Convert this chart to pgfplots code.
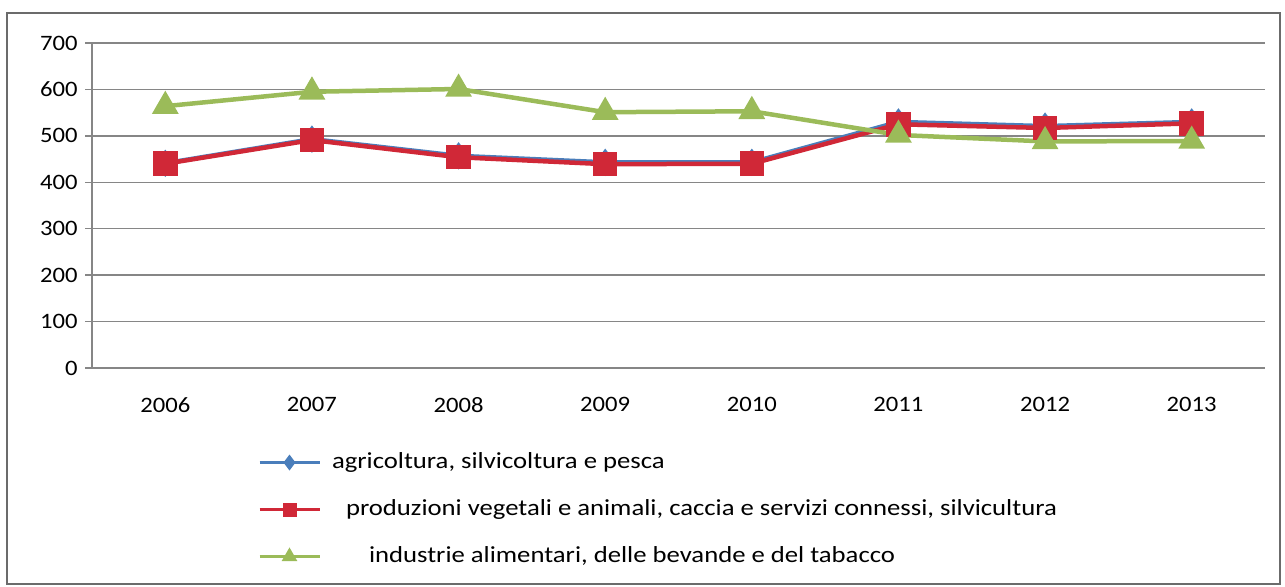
\documentclass[border=0pt]{standalone}
\usepackage{pgfplots}
\pgfplotsset{compat=1.18}
\usepackage{fontspec}
\setmainfont{Carlito}
\newfontfamily\legfont{Carlito}[FakeStretch=1.16]
\newfontfamily\tickfont{Carlito}[FakeStretch=1.12]
\definecolor{xlblue}{RGB}{74,126,187}
\definecolor{xlred}{RGB}{208,40,55}
\definecolor{xlgreen}{RGB}{155,187,89}
\definecolor{xlgrid}{RGB}{134,134,134}
\begin{document}
\begin{tikzpicture}
\useasboundingbox (0,0) rectangle (642.5pt,293pt);
\draw[xlgrid!80!black, line width=0.8pt] (3.5pt,1pt) rectangle (640pt,286.5pt);
\begin{axis}[
  at={(46pt,109pt)}, anchor=south west,
  scale only axis, width=586.5pt, height=162.5pt,
  xmin=-0.5, xmax=7.5, ymin=0, ymax=700,
  axis x line=bottom, axis y line=left,
  axis line style={-, xlgrid, line width=0.75pt},
  xtick={0,...,7},
  xticklabels={2006,2007,2008,2009,2010,2011,2012,2013},
  minor xtick={-0.5,0.5,...,7.5},
  ytick={0,100,...,700},
  ymajorgrids, grid style={xlgrid, line width=0.75pt},
  tick align=outside,
  major tick length=3.5pt, minor tick length=3.5pt,
  xtick style={draw=none},
  minor x tick style={xlgrid, line width=0.75pt},
  major y tick style={xlgrid, line width=0.75pt},
  tick label style={font=\tickfont\fontsize{11}{13}\selectfont},
  /pgf/number format/assume math mode=true,
  yticklabel style={inner sep=0pt, xshift=-3.5pt},
  xticklabel style={inner sep=0pt, anchor=north, yshift=-11pt},
  legend style={at={(rel axis cs:0,0)}, anchor=north west, xshift=83pt, yshift=-42pt,
    draw=none, fill=none, inner sep=0pt, outer sep=0pt,
    row sep=13pt, column sep=0pt,
    nodes={inner sep=0pt, text height=8pt, text depth=2.5pt},
    font=\legfont\fontsize{11.5}{13}\selectfont},
  legend cell align=left,
  legend image code/.code={\draw[#1, line width=1.5pt, mark repeat=2, mark phase=2, every mark/.append style={scale=0.55}] plot coordinates {(0pt,0pt) (15pt,0pt) (30pt,0pt)};},
]
\addplot[xlblue, line width=2.25pt, mark=diamond*, mark size=5pt, mark options={solid}]
  coordinates {(0,441) (1,493) (2,457) (3,443) (4,443) (5,530) (6,521) (7,530)};
\addlegendentry{\hspace{5.5pt}agricoltura, silvicoltura e pesca}
\addplot[xlred, line width=2.25pt, mark=square*, mark size=5pt, mark options={solid}]
  coordinates {(0,440) (1,491) (2,454) (3,439) (4,440) (5,525) (6,517) (7,527)};
\addlegendentry{\hspace{12.5pt}produzioni vegetali e animali, caccia e servizi connessi, silvicultura}
\addplot[xlgreen, line width=2.25pt, mark=triangle*, mark size=5.5pt, mark options={solid}]
  coordinates {(0,564) (1,595) (2,601) (3,551) (4,553) (5,502) (6,488) (7,489)};
\addlegendentry{\hspace{24pt}industrie alimentari, delle bevande e del tabacco}
\end{axis}
\end{tikzpicture}
\end{document}
